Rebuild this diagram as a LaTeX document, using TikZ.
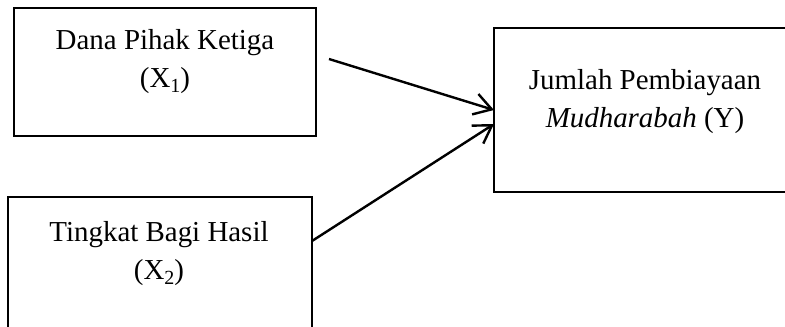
\documentclass[tikz,border=0pt]{standalone}
\usepackage{fontspec}
\setmainfont{Liberation Serif}
\usetikzlibrary{arrows.meta}
\newcommand{\subx}[1]{\raisebox{-0.17em}{\fontsize{15}{15}\selectfont #1}}
\tikzset{
  boxstyle/.style={draw, line width=1.9pt, inner sep=0pt, outer sep=0pt},
  txtstyle/.style={inner sep=0pt, align=center, font=\fontsize{21.7}{28.5}\selectfont},
  arrowstyle/.style={line width=1.8pt, -{Straight Barb[length=13pt,width=16pt,line width=1.8pt]}}
}
\begin{document}
\begin{tikzpicture}[x=0.75pt,y=-0.75pt]
\useasboundingbox (0,0) rectangle (785,326);
\clip (0,0) rectangle (785,326);
% boxes
\node[boxstyle, minimum width=302*0.75pt, minimum height=128*0.75pt, anchor=north west] (b1) at (14,8) {};
\node[boxstyle, minimum width=304*0.75pt, minimum height=150*0.75pt, anchor=north west] (b2) at (8,197) {};
\node[boxstyle, minimum width=306*0.75pt, minimum height=164*0.75pt, anchor=north west] (b3) at (494,28) {};
% texts
\node[txtstyle] (t1) at (165,62) {Dana Pihak Ketiga\\(X\subx{1})};
\node[txtstyle] (t2) at (159,254) {Tingkat Bagi Hasil\\(X\subx{2})};
\node[txtstyle] (t3) at (645,102) {Jumlah Pembiayaan\\\textit{Mudharabah} (Y)};
% connector ends
\coordinate (s1) at (329,59);
\coordinate (s2) at (b2.north east |- 0,241);
\coordinate (e1) at (b3.north west |- 0,110);
\coordinate (e2) at (b3.north west |- 0,124);
\draw[arrowstyle] (s1) -- (e1);
\draw[arrowstyle] (s2) -- (e2);
\end{tikzpicture}
\end{document}
